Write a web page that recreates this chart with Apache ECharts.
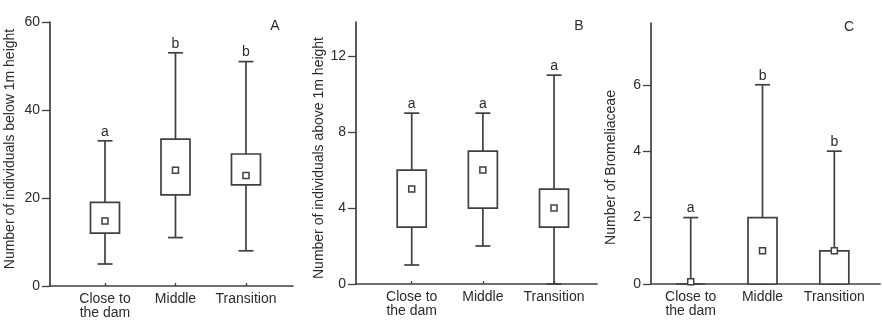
<!DOCTYPE html>
<html>
<head>
<meta charset="utf-8">
<script src="https://cdn.jsdelivr.net/npm/echarts@6/dist/echarts.min.js"></script>
<style>
  html, body { margin: 0; padding: 0; background: #fff; }
  #chart { width: 882px; height: 323px; }
</style>
</head>
<body>
<div id="chart"></div>
<script>
// categories along the x axis, placed at 1, 2, 3
const categories = ['Close to\nthe dam', 'Middle', 'Transition']
const catPos = [1, 2, 3]

// each row: [lower whisker, box bottom, mean marker, box top, upper whisker]
const belowStats = [
  [5, 12, 14.8, 19, 33],
  [11, 20.7, 26.3, 33.4, 53],
  [8, 23, 25.1, 30, 51]
]
const aboveStats = [
  [1, 3, 5, 6, 9],
  [2, 4, 6, 7, 9],
  [0, 3, 4, 5, 11]
]
const bromStats = [
  [0, 0, 0.07, 0, 2],
  [0, 0, 1, 2, 6],
  [0, 0, 1, 1, 4]
]

const belowLetters = ['a', 'b', 'b']
const aboveLetters = ['a', 'a', 'a']
const bromLetters = ['a', 'b', 'b']

const belowTicks = [0, 20, 40, 60]
const aboveTicks = [0, 4, 8, 12]
const bromTicks = [0, 2, 4, 6]

const FONT = '"Liberation Sans", Arial, sans-serif'
const LINE = '#404040'
const TEXT = '#2b2b2b'

const makeRender = (letters) => (params, api) => {
  const x = api.value(0)
  const lo = api.coord([x, api.value(1)])
  const q1 = api.coord([x, api.value(2)])
  const mean = api.coord([x, api.value(3)])
  const q3 = api.coord([x, api.value(4)])
  const hi = api.coord([x, api.value(5)])
  const cx = lo[0]
  const stroke = { stroke: LINE, lineWidth: 1.7 }
  return {
    type: 'group',
    children: [
      { type: 'line', shape: { x1: cx, y1: lo[1], x2: cx, y2: hi[1] }, style: stroke },
      { type: 'line', shape: { x1: cx - 7.5, y1: lo[1], x2: cx + 7.5, y2: lo[1] }, style: stroke },
      { type: 'line', shape: { x1: cx - 7.5, y1: hi[1], x2: cx + 7.5, y2: hi[1] }, style: stroke },
      {
        type: 'rect',
        shape: { x: cx - 14.5, y: q3[1], width: 29, height: q1[1] - q3[1] },
        style: { fill: '#fff', ...stroke }
      },
      {
        type: 'rect',
        shape: { x: cx - 3, y: mean[1] - 3, width: 6, height: 6 },
        style: { fill: '#fff', stroke: LINE, lineWidth: 1.5 }
      },
      {
        type: 'text',
        x: cx,
        y: hi[1] - 2,
        style: {
          text: letters[params.dataIndex],
          fill: TEXT,
          font: '14px ' + FONT,
          textAlign: 'center',
          textVerticalAlign: 'bottom'
        }
      }
    ]
  }
}

const xAxisFor = (gridIndex, min, max) => ({
  type: 'value',
  gridIndex,
  min,
  max,
  splitLine: { show: false },
  axisLine: { show: true, lineStyle: { color: LINE, width: 1.7 } },
  axisTick: { show: true, inside: true, customValues: catPos, length: 3, lineStyle: { color: LINE, width: 1.3 } },
  axisLabel: {
    customValues: catPos,
    margin: 6,
    color: TEXT,
    fontFamily: FONT,
    fontSize: 14,
    lineHeight: 14,
    formatter: (v) => categories[Math.round(v) - 1]
  }
})

const yAxisFor = (gridIndex, max, ticks, name, nameGap, padding) => ({
  type: 'value',
  gridIndex,
  min: 0,
  max,
  name,
  nameLocation: 'middle',
  nameGap,
  nameTextStyle: { color: TEXT, fontFamily: FONT, fontSize: 14, padding },
  splitLine: { show: false },
  axisLine: { show: true, lineStyle: { color: LINE, width: 1.7 } },
  axisTick: { show: true, customValues: ticks, length: 8, lineStyle: { color: LINE, width: 1.3 } },
  axisLabel: { customValues: ticks, margin: 10, color: TEXT, fontFamily: FONT, fontSize: 14 }
})

const toData = (stats) => stats.map((s, i) => [catPos[i], ...s])

const panelLetter = (text, x, y) => ({
  type: 'text',
  x,
  y,
  style: { text, fill: TEXT, font: '14px ' + FONT, textAlign: 'center', textVerticalAlign: 'middle' }
})

const chart = echarts.init(document.getElementById('chart'))
chart.setOption({
  animation: false,
  grid: [
    { left: 50, top: 22, width: 243, bottom: 37, outerBoundsMode: 'none' },
    { left: 356, top: 22, width: 241, bottom: 39, outerBoundsMode: 'none' },
    { left: 651, top: 23, width: 229, bottom: 39, outerBoundsMode: 'none' }
  ],
  xAxis: [
    xAxisFor(0, 0.22, 3.667),
    xAxisFor(1, 0.217, 3.604),
    xAxisFor(2, 0.447, 3.636)
  ],
  yAxis: [
    yAxisFor(0, 60, belowTicks, 'Number of individuals below 1m height', 33, [0, 0, 0, 10]),
    yAxisFor(1, 13.8, aboveTicks, 'Number of individuals above 1m height', 28, [0, 10, 0, 0]),
    yAxisFor(2, 7.86, bromTicks, 'Number of Bromeliaceae', 33, [0, 28, 0, 0])
  ],
  graphic: [
    panelLetter('A', 275, 26),
    panelLetter('B', 579, 26),
    panelLetter('C', 849, 27)
  ],
  series: [
    { type: 'custom', xAxisIndex: 0, yAxisIndex: 0, renderItem: makeRender(belowLetters), data: toData(belowStats), clip: false },
    { type: 'custom', xAxisIndex: 1, yAxisIndex: 1, renderItem: makeRender(aboveLetters), data: toData(aboveStats), clip: false },
    { type: 'custom', xAxisIndex: 2, yAxisIndex: 2, renderItem: makeRender(bromLetters), data: toData(bromStats), clip: false }
  ]
})
</script>
</body>
</html>
